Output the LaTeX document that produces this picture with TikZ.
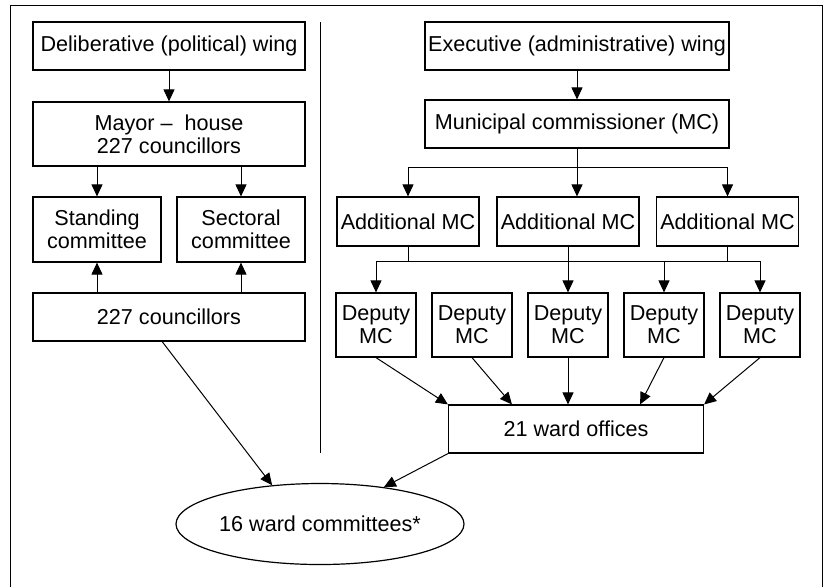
\documentclass[tikz,border=0pt]{standalone}
\usepackage{fontspec}
\setmainfont{Liberation Sans}
\usetikzlibrary{arrows.meta, positioning, shapes.geometric, calc}

\begin{document}
\begin{tikzpicture}[
x=0.5pt, y=-0.5pt,
font=\fontsize{10.8}{11.5}\selectfont,
block/.style={draw, line width=0.6pt, inner sep=1pt, align=center},
wide/.style={block, minimum width=136pt, minimum height=24pt},
dep/.style={block, minimum width=40pt, minimum height=32pt},
addmc/.style={block, minimum width=71pt, minimum height=24.5pt},
ellip/.style={draw, ellipse, line width=0.6pt, inner sep=0pt, minimum width=144pt, minimum height=40.5pt},
arrow/.style={-{Triangle[length=6pt, width=5.5pt]}, line width=0.5pt},
plain/.style={line width=0.5pt}
]
\useasboundingbox (0,0) rectangle (828,586);
% frame and divider
\draw[plain] (10,592) -- (10,5) -- (822,5) -- (822,592);
\draw[plain] (320,22) -- (320,453);

% political side
\node[wide] (delib) at (169,46) {Deliberative (political) wing};
\node[wide, minimum height=32pt] (mayor) at (169,134) {Mayor –\ \ house\\227 councillors};
\node[block, minimum width=64pt, minimum height=32.5pt] (standing) at (97,229.5) {Standing\\committee};
\node[block, minimum width=64pt, minimum height=32.5pt] (sectoral) at (241,229.5) {Sectoral\\committee};
\node[wide] (council) at (169,317) {227 councillors};

% administrative side
\node[block, minimum width=152pt, minimum height=24pt] (exec) at (577,46) {Executive (administrative) wing};
\node[block, minimum width=152pt, minimum height=24pt] (mc) at (577,124) {Municipal commissioner (MC)};
\node[addmc] (add1) at (408,221.5) {Additional MC};
\node[addmc] (add2) at (568,221.5) {Additional MC};
\node[addmc] (add3) at (727.5,221.5) {Additional MC};
\foreach \i/\x in {1/376, 2/472, 3/568, 4/664, 5/760}
  \node[dep] (dep\i) at (\x,325) {Deputy\\MC};
\node[block, minimum width=127.5pt, minimum height=24pt] (ward) at (576,429) {21 ward offices};
\node[ellip] (wardcom) at (320,524) {16 ward committees*};

\coordinate (bus1) at (577,167);
\coordinate (bus2) at (568,261);

% political connectors
\draw[arrow] (delib) -- (mayor);
\draw[arrow] (mayor.south -| standing) -- (standing);
\draw[arrow] (mayor.south -| sectoral) -- (sectoral);
\draw[arrow] (council.north -| standing) -- (standing);
\draw[arrow] (council.north -| sectoral) -- (sectoral);
\draw[arrow] ($(council.south west)!0.475!(council.south east)$) -- (wardcom.141.8);

% administrative connectors
\draw[arrow] (exec) -- (mc);
\draw[arrow] (mc.south) -- (mc.south |- add2.north);
\draw[plain] (add1.north |- bus1) -- (add3.north |- bus1);
\draw[arrow] (add1.north |- bus1) -- (add1);
\draw[arrow] (add3.north |- bus1) -- (add3);
\draw[plain] (add1) -- (add1.south |- bus2);
\draw[plain] (add3) -- (add3.south |- bus2);
\draw[plain] (dep1.north |- bus2) -- (dep5.north |- bus2);
\draw[arrow] (add2) -- (dep3);
\foreach \i in {1,4,5}
  \draw[arrow] (dep\i.north |- bus2) -- (dep\i);
\draw[arrow] (dep1.south) -- (ward.north west);
\draw[arrow] (dep2.south) -- ($(ward.north west)!0.25!(ward.north east)$);
\draw[arrow] (dep3) -- (dep3.south |- ward.north);
\draw[arrow] (dep4.south) -- ($(ward.north west)!0.75!(ward.north east)$);
\draw[arrow] (dep5.south) -- (ward.north east);
\draw[arrow] (ward.south west) -- (wardcom.30);
\end{tikzpicture}
\end{document}
